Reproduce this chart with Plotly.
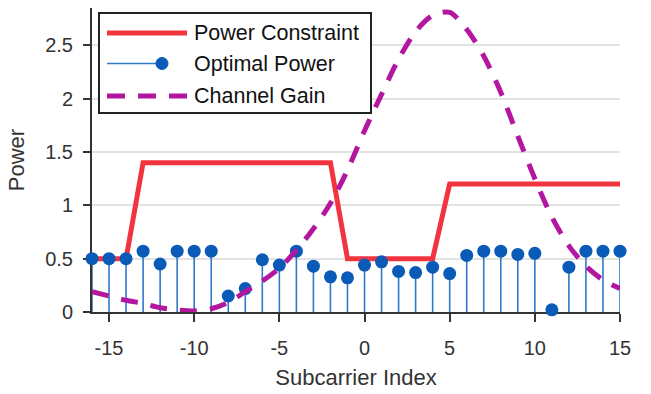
import plotly.graph_objects as go

# ---- data ----
subcarriers = list(range(-16, 16))
power_constraint = [0.5, 0.5, 0.5] + [1.4] * 12 + [0.5] * 6 + [1.2] * 11
optimal_power = [0.50, 0.50, 0.50, 0.57, 0.45, 0.57, 0.57, 0.57, 0.15, 0.22,
                 0.49, 0.44, 0.57, 0.43, 0.33, 0.32, 0.44, 0.47, 0.38, 0.37,
                 0.42, 0.36, 0.53, 0.57, 0.57, 0.54, 0.55, 0.02, 0.42, 0.57,
                 0.57, 0.57]
channel_gain = [0.19, 0.15, 0.11, 0.08, 0.04, 0.02, 0.01, 0.03, 0.09, 0.19,
                0.29, 0.41, 0.58, 0.78, 1.02, 1.33, 1.70, 2.04, 2.37, 2.63,
                2.78, 2.81, 2.65, 2.40, 2.06, 1.65, 1.25, 0.89, 0.62, 0.43,
                0.30, 0.22]
x_ticks = [-15, -10, -5, 0, 5, 10, 15]
y_ticks = [0, 0.5, 1, 1.5, 2, 2.5]
legend_labels = ["Power Constraint", "Optimal Power", "Channel Gain"]

RED = "#f2343f"
BLUE = "#0a5bb8"
STEM = "#2d79cc"
MAG = "#b3169f"
FONT = "Liberation Sans, Arial, sans-serif"

fig = go.Figure()

fig.add_trace(go.Scatter(x=subcarriers, y=power_constraint, mode="lines",
                         line=dict(color=RED, width=5), showlegend=False))

stem_x, stem_y = [], []
for k, v in zip(subcarriers, optimal_power):
    stem_x += [k, k, None]
    stem_y += [0, v, None]
fig.add_trace(go.Scatter(x=stem_x, y=stem_y, mode="lines",
                         line=dict(color=STEM, width=1.6), showlegend=False,
                         cliponaxis=False))
fig.add_trace(go.Scatter(x=subcarriers, y=optimal_power, mode="markers",
                         marker=dict(color=BLUE, size=13), showlegend=False,
                         cliponaxis=False))

fig.add_trace(go.Scatter(x=subcarriers, y=channel_gain, mode="lines",
                         line=dict(color=MAG, width=5, dash="17px,13px", shape="spline", smoothing=0.8),
                         showlegend=False))

# ---- manual legend (pixel -> paper) ----
L, R, T, B = 92, 620, 8, 312
def px(x):
    return (x - L) / (R - L)
def py(y):
    return (B - y) / (B - T)

shapes = [
    dict(type="rect", xref="paper", yref="paper", x0=px(99), x1=px(371), y0=py(113), y1=py(13),
         line=dict(color="#222", width=2), fillcolor="white", layer="above"),
    dict(type="line", xref="paper", yref="paper", x0=px(107), x1=px(187), y0=py(33), y1=py(33),
         line=dict(color=RED, width=5), layer="above"),
    dict(type="line", xref="paper", yref="paper", x0=px(107), x1=px(162), y0=py(63.5), y1=py(63.5),
         line=dict(color=STEM, width=1.6), layer="above"),
    dict(type="circle", xref="paper", yref="paper", x0=px(156), x1=px(168), y0=py(69.5), y1=py(57.5),
         line=dict(color=BLUE, width=1), fillcolor=BLUE, layer="above"),
    dict(type="line", xref="paper", yref="paper", x0=px(107), x1=px(187), y0=py(96), y1=py(96),
         line=dict(color=MAG, width=5, dash="18px,13px"), layer="above"),
]
annotations = []
for lab, yy in zip(legend_labels, [33, 64, 96]):
    annotations.append(dict(text=lab, xref="paper", yref="paper", x=px(192), y=py(yy),
                            xanchor="left", yanchor="middle", showarrow=False,
                            font=dict(family=FONT, size=21.5, color="#111")))

fig.update_layout(
    width=651, height=394,
    margin=dict(l=L, r=651 - R, t=T, b=394 - B),
    paper_bgcolor="white", plot_bgcolor="white",
    font=dict(family=FONT, size=20, color="#333"),
    shapes=shapes, annotations=annotations,
    xaxis=dict(range=[-16, 15], tickvals=x_ticks, ticktext=[str(t) for t in x_ticks],
               showgrid=False, zeroline=False, showline=True, linecolor="#333", linewidth=2,
               ticks="outside", ticklen=8, tickwidth=2, tickcolor="#333",
               ticklabelstandoff=9,
               layer="below traces",
               title=dict(text="Subcarrier Index", font=dict(size=22, color="#333"), standoff=12)),
    yaxis=dict(range=[0, 2.85], tickvals=y_ticks, ticktext=["0", "0.5", "1", "1.5", "2", "2.5"],
               showgrid=True, gridcolor="#e3e3e3", gridwidth=2, zeroline=False,
               showline=True, linecolor="#333", linewidth=2,
               ticks="outside", ticklen=7, tickwidth=2, tickcolor="#333",
               ticklabelstandoff=6,
               layer="below traces",
               title=dict(text="Power", font=dict(size=22, color="#333"), standoff=14)),
)

fig.write_html("out.html")
